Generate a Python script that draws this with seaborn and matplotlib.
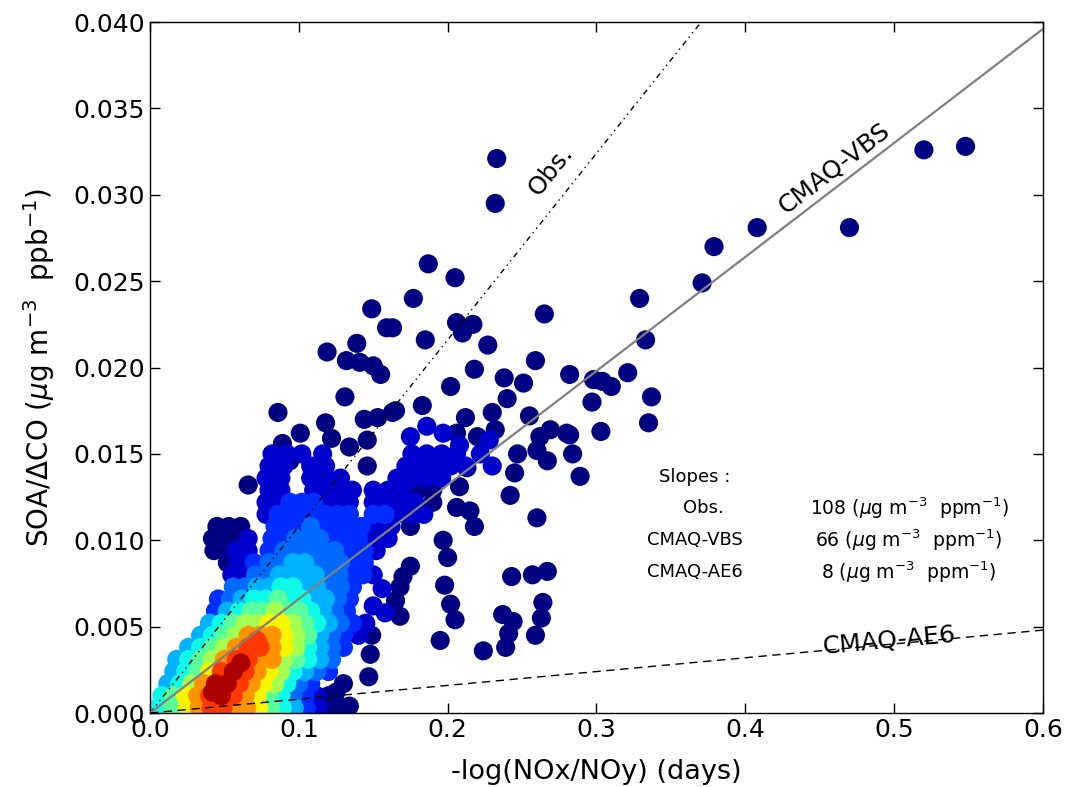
import numpy as np
import pandas as pd
import matplotlib
matplotlib.use("Agg")
import matplotlib.pyplot as plt
from matplotlib.ticker import FormatStrFormatter
import seaborn as sns

# ------------------------------------------------------------
# Points, grouped by colour (point density)
# x = -log(NOx/NOy) (days), y = SOA/dCO (ug m-3 ppb-1)
# ------------------------------------------------------------
navy = [  # level 0.00 - isolated points
    (0.233, 0.0321), (0.232, 0.0295), (0.520, 0.0326), (0.548, 0.0328), (0.470, 0.0281),
    (0.408, 0.0281), (0.379, 0.0270), (0.371, 0.0249), (0.329, 0.0240), (0.333, 0.0216),
    (0.337, 0.0183), (0.335, 0.0168), (0.303, 0.0163), (0.321, 0.0197), (0.298, 0.0193),
    (0.304, 0.0192), (0.310, 0.0189), (0.297, 0.0180), (0.282, 0.0196), (0.282, 0.0161),
    (0.289, 0.0137), (0.284, 0.0150), (0.269, 0.0164), (0.262, 0.0160), (0.260, 0.0152),
    (0.267, 0.0146), (0.247, 0.0150), (0.245, 0.0139), (0.242, 0.0126), (0.260, 0.0113),
    (0.243, 0.0079), (0.257, 0.0080), (0.267, 0.0082), (0.264, 0.0064), (0.263, 0.0055),
    (0.259, 0.0045), (0.237, 0.0057), (0.244, 0.0053), (0.241, 0.0046), (0.239, 0.0038),
    (0.224, 0.0036), (0.197, 0.0100), (0.200, 0.0090), (0.198, 0.0074), (0.202, 0.0063),
    (0.205, 0.0054), (0.195, 0.0042), (0.208, 0.0131), (0.206, 0.0119), (0.215, 0.0117),
    (0.218, 0.0108), (0.213, 0.0142), (0.220, 0.0160), (0.232, 0.0164), (0.187, 0.0260),
    (0.205, 0.0252), (0.177, 0.0240), (0.265, 0.0231), (0.163, 0.0223), (0.206, 0.0226),
    (0.217, 0.0225), (0.210, 0.0220), (0.185, 0.0216), (0.227, 0.0213), (0.259, 0.0204),
    (0.218, 0.0199), (0.202, 0.0189), (0.238, 0.0194), (0.251, 0.0191), (0.240, 0.0182),
    (0.183, 0.0178), (0.165, 0.0175), (0.230, 0.0174), (0.255, 0.0172), (0.212, 0.0171),
    (0.206, 0.0162), (0.280, 0.0162), (0.149, 0.0234), (0.159, 0.0223), (0.139, 0.0214),
    (0.119, 0.0209), (0.132, 0.0204), (0.141, 0.0203), (0.150, 0.0201), (0.155, 0.0196),
    (0.131, 0.0183), (0.086, 0.0174), (0.163, 0.0174), (0.144, 0.0170), (0.153, 0.0171),
    (0.118, 0.0168), (0.101, 0.0162), (0.122, 0.0159), (0.146, 0.0158), (0.134, 0.0154),
    (0.089, 0.0156), (0.085, 0.0150), (0.083, 0.0145), (0.094, 0.0146), (0.066, 0.0132),
    (0.175, 0.0085), (0.170, 0.0079), (0.165, 0.0065), (0.168, 0.0056), (0.168, 0.0073),
    (0.148, 0.0034), (0.149, 0.0045), (0.147, 0.0021), (0.130, 0.0017), (0.134, 0.0004),
    (0.125, 0.0012), (0.121, 0.0003), (0.129, 0.0003), (0.120, 0.0010), (0.052, 0.0087),
    (0.043, 0.0094), (0.050, 0.0094), (0.042, 0.0101), (0.050, 0.0101), (0.058, 0.0101),
    (0.045, 0.0108), (0.053, 0.0108), (0.061, 0.0108), (0.175, 0.0108), (0.190, 0.0122),
    (0.180, 0.0129), (0.190, 0.0129), (0.146, 0.0143),
]
dark_blue = [  # level 0.07
    (0.113, 0.0003), (0.112, 0.0010), (0.140, 0.0045), (0.055, 0.0080), (0.063, 0.0080),
    (0.060, 0.0087), (0.058, 0.0094), (0.066, 0.0094), (0.152, 0.0094), (0.066, 0.0101),
    (0.150, 0.0101), (0.160, 0.0101), (0.152, 0.0108), (0.162, 0.0108), (0.078, 0.0115),
    (0.166, 0.0115), (0.176, 0.0115), (0.184, 0.0115), (0.078, 0.0122), (0.086, 0.0122),
    (0.118, 0.0122), (0.126, 0.0122), (0.134, 0.0122), (0.150, 0.0122), (0.160, 0.0122),
    (0.170, 0.0122), (0.178, 0.0122), (0.080, 0.0129), (0.088, 0.0129), (0.110, 0.0129),
    (0.118, 0.0129), (0.126, 0.0129), (0.136, 0.0129), (0.150, 0.0129), (0.160, 0.0129),
    (0.170, 0.0129), (0.078, 0.0136), (0.088, 0.0136), (0.108, 0.0136), (0.118, 0.0136),
    (0.128, 0.0136), (0.166, 0.0136), (0.176, 0.0136), (0.186, 0.0136), (0.196, 0.0136),
    (0.080, 0.0143), (0.090, 0.0143), (0.108, 0.0143), (0.118, 0.0143), (0.172, 0.0143),
    (0.182, 0.0143), (0.192, 0.0143), (0.202, 0.0143), (0.212, 0.0143), (0.082, 0.0150),
    (0.092, 0.0150), (0.102, 0.0150), (0.116, 0.0150), (0.176, 0.0150), (0.186, 0.0150),
    (0.196, 0.0150), (0.206, 0.0150), (0.175, 0.0160), (0.186, 0.0166), (0.197, 0.0162),
    (0.208, 0.0155), (0.222, 0.0150), (0.230, 0.0143), (0.228, 0.0158), (0.150, 0.0080),
    (0.156, 0.0072), (0.150, 0.0062), (0.158, 0.0058), (0.145, 0.0052),
]
blue = [  # level 0.17
    (0.105, 0.0003), (0.104, 0.0010), (0.108, 0.0017), (0.120, 0.0024), (0.130, 0.0038),
    (0.130, 0.0045), (0.136, 0.0052), (0.044, 0.0059), (0.132, 0.0059), (0.046, 0.0066),
    (0.134, 0.0066), (0.136, 0.0073), (0.135, 0.0080), (0.143, 0.0080), (0.070, 0.0087),
    (0.136, 0.0087), (0.144, 0.0087), (0.080, 0.0094), (0.134, 0.0094), (0.144, 0.0094),
    (0.082, 0.0101), (0.090, 0.0101), (0.122, 0.0101), (0.130, 0.0101), (0.140, 0.0101),
    (0.084, 0.0108), (0.092, 0.0108), (0.100, 0.0108), (0.116, 0.0108), (0.124, 0.0108),
    (0.132, 0.0108), (0.142, 0.0108), (0.086, 0.0115), (0.094, 0.0115), (0.102, 0.0115),
    (0.110, 0.0115), (0.118, 0.0115), (0.126, 0.0115), (0.134, 0.0115), (0.150, 0.0115),
    (0.158, 0.0115), (0.094, 0.0122), (0.102, 0.0122), (0.110, 0.0122),
]
mid_blue = [  # level 0.23
    (0.096, 0.0010), (0.100, 0.0017), (0.112, 0.0024), (0.122, 0.0031), (0.122, 0.0038),
    (0.122, 0.0045), (0.128, 0.0052), (0.124, 0.0059), (0.054, 0.0066), (0.126, 0.0066),
    (0.056, 0.0073), (0.064, 0.0073), (0.120, 0.0073), (0.128, 0.0073), (0.071, 0.0080),
    (0.079, 0.0080), (0.119, 0.0080), (0.127, 0.0080), (0.080, 0.0087), (0.088, 0.0087),
    (0.112, 0.0087), (0.120, 0.0087), (0.128, 0.0087), (0.090, 0.0094), (0.098, 0.0094),
    (0.106, 0.0094), (0.114, 0.0094), (0.124, 0.0094), (0.098, 0.0101), (0.106, 0.0101),
    (0.114, 0.0101), (0.108, 0.0108),
]
light_blue = [  # level 0.30
    (0.097, 0.0003), (0.012, 0.0017), (0.016, 0.0024), (0.104, 0.0024), (0.018, 0.0031),
    (0.114, 0.0031), (0.026, 0.0038), (0.114, 0.0038), (0.034, 0.0045), (0.114, 0.0045),
    (0.040, 0.0052), (0.120, 0.0052), (0.052, 0.0059), (0.116, 0.0059), (0.062, 0.0066),
    (0.110, 0.0066), (0.118, 0.0066), (0.072, 0.0073), (0.080, 0.0073), (0.104, 0.0073),
    (0.112, 0.0073), (0.087, 0.0080), (0.095, 0.0080), (0.103, 0.0080), (0.111, 0.0080),
    (0.096, 0.0087), (0.104, 0.0087),
]
cyan = [  # level 0.37
    (0.005, 0.0003), (0.089, 0.0003), (0.008, 0.0010), (0.088, 0.0010), (0.020, 0.0017),
    (0.092, 0.0017), (0.024, 0.0024), (0.096, 0.0024), (0.026, 0.0031), (0.106, 0.0031),
    (0.034, 0.0038), (0.106, 0.0038), (0.042, 0.0045), (0.048, 0.0052), (0.112, 0.0052),
    (0.060, 0.0059), (0.108, 0.0059), (0.070, 0.0066), (0.078, 0.0066), (0.094, 0.0066),
    (0.102, 0.0066), (0.088, 0.0073), (0.096, 0.0073),
]
green = [  # level 0.46
    (0.015, 0.0003), (0.081, 0.0003), (0.016, 0.0010), (0.080, 0.0010), (0.032, 0.0024),
    (0.034, 0.0031), (0.098, 0.0031), (0.042, 0.0038), (0.050, 0.0045), (0.106, 0.0045),
    (0.056, 0.0052), (0.104, 0.0052), (0.068, 0.0059), (0.076, 0.0059), (0.092, 0.0059),
    (0.100, 0.0059), (0.086, 0.0066),
]
lime = [  # level 0.55
    (0.028, 0.0017), (0.084, 0.0017), (0.088, 0.0024), (0.042, 0.0031), (0.090, 0.0031),
    (0.050, 0.0038), (0.098, 0.0038), (0.058, 0.0045), (0.098, 0.0045), (0.064, 0.0052),
    (0.072, 0.0052), (0.096, 0.0052), (0.084, 0.0059),
]
yellow = [  # level 0.65
    (0.025, 0.0003), (0.073, 0.0003), (0.024, 0.0010), (0.072, 0.0010), (0.076, 0.0017),
    (0.040, 0.0024), (0.080, 0.0024), (0.090, 0.0038),
    (0.090, 0.0045), (0.080, 0.0052), (0.088, 0.0052),
]
orange = [  # level 0.75
    (0.033, 0.0003), (0.057, 0.0003), (0.065, 0.0003), (0.032, 0.0010), (0.064, 0.0010),
    (0.036, 0.0017), (0.068, 0.0017), (0.072, 0.0024), (0.050, 0.0031), (0.074, 0.0031),
    (0.058, 0.0038), (0.074, 0.0045), (0.082, 0.0045), (0.066, 0.0045), (0.082, 0.0038),
    (0.082, 0.0031),
]
red = [  # level 0.85
    (0.041, 0.0003), (0.049, 0.0003), (0.040, 0.0010), (0.056, 0.0010), (0.060, 0.0017),
    (0.048, 0.0024), (0.064, 0.0024), (0.058, 0.0031), (0.066, 0.0031), (0.066, 0.0038),
    (0.074, 0.0038), (0.072, 0.0042),
]
dark_red = [  # level 0.96
    (0.048, 0.0010), (0.042, 0.0012), (0.044, 0.0017), (0.052, 0.0017), (0.056, 0.0024),
    (0.061, 0.0029),
]

groups = [navy, dark_blue, blue, mid_blue, light_blue, cyan, green, lime,
          yellow, orange, red, dark_red]
group_levels = [0.0, 0.07, 0.17, 0.23, 0.30, 0.37, 0.46, 0.55, 0.65, 0.75, 0.85, 0.96]

# fitted slopes (ug m-3 ppm-1)
slope_names = ["Obs.", "CMAQ-VBS", "CMAQ-AE6"]
slope_values = [108, 66, 8]


def main():
    rows = []
    for pts, lev in zip(groups, group_levels):
        for x, y in pts:
            rows.append((x, y, lev))
    df = pd.DataFrame(rows, columns=["x", "y", "density"]).sort_values("density", kind="stable")

    sns.set_style("ticks", {"xtick.direction": "in", "ytick.direction": "in"})
    plt.rcParams["font.family"] = ["DejaVu Sans"]
    plt.rcParams["text.color"] = "black"
    plt.rcParams["axes.labelcolor"] = "black"

    fig = plt.figure(figsize=(10.89, 7.87), dpi=100)
    ax = fig.add_axes([0.1377, 0.094, 0.820, 0.878])

    sns.scatterplot(data=df, x="x", y="y", hue="density",
                    palette=matplotlib.colormaps["jet"],
                    hue_norm=(0, 1), s=190, linewidth=0, legend=False, ax=ax,
                    zorder=1)

    # fitted lines through the origin (ppm -> ppb)
    xs = np.array([0.0, 0.6])
    ax.plot(xs, slope_values[0] / 1000 * xs, color="black", lw=1,
            dashes=[4, 3, 1, 3, 1, 3], zorder=3)
    ax.plot(xs, slope_values[1] / 1000 * xs, color="gray", lw=1.6, zorder=3)
    ax.plot(xs, slope_values[2] / 1000 * xs, color="black", lw=1,
            dashes=[6, 4], zorder=3)

    # line labels, rotated along the lines
    def ang(k):
        return np.degrees(np.arctan(k / 1000))

    ax.text(0.2695, 0.0314, "Obs.", fontsize=18, rotation=ang(slope_values[0]),
            transform_rotates_text=True, rotation_mode="anchor",
            ha="center", va="center")
    ax.text(0.460, 0.0315, "CMAQ-VBS", fontsize=18, rotation=ang(slope_values[1]),
            transform_rotates_text=True, rotation_mode="anchor",
            ha="center", va="center")
    ax.text(0.497, 0.0042, "CMAQ-AE6", fontsize=18, rotation=ang(slope_values[2]),
            transform_rotates_text=True, rotation_mode="anchor",
            ha="center", va="center")

    # slopes table
    ax.text(0.366, 0.01366, "Slopes :", fontsize=13, ha="center", va="center")
    row_y = [0.01186, 0.0100, 0.00816]
    name_x = [0.372, 0.366, 0.366]
    for name, val, yy, nx in zip(slope_names, slope_values, row_y, name_x):
        ax.text(nx, yy, name, fontsize=13, ha="center", va="center")
        ax.text(0.510, yy, rf"{val} ($\mu$g m$^{{-3}}$  ppm$^{{-1}}$)",
                fontsize=13.5, ha="center", va="center")

    ax.set_xlim(0, 0.6)
    ax.set_ylim(0, 0.04)
    ax.set_xticks(np.arange(0, 0.61, 0.1))
    ax.set_yticks(np.arange(0, 0.0401, 0.005))
    ax.xaxis.set_major_formatter(FormatStrFormatter("%.1f"))
    ax.yaxis.set_major_formatter(FormatStrFormatter("%.3f"))
    ax.tick_params(top=True, right=True, length=7, width=1, labelsize=18,
                   colors="black")
    for sp in ax.spines.values():
        sp.set_color("black")
        sp.set_linewidth(1)

    ax.set_xlabel("-log(NOx/NOy) (days)", fontsize=19.5, labelpad=12)
    ax.set_ylabel(r"SOA/$\Delta$CO ($\mu$g m$^{-3}$  ppb$^{-1}$)", fontsize=20,
                  labelpad=12)

    fig.savefig("out.png", dpi=100)


if __name__ == "__main__":
    main()
